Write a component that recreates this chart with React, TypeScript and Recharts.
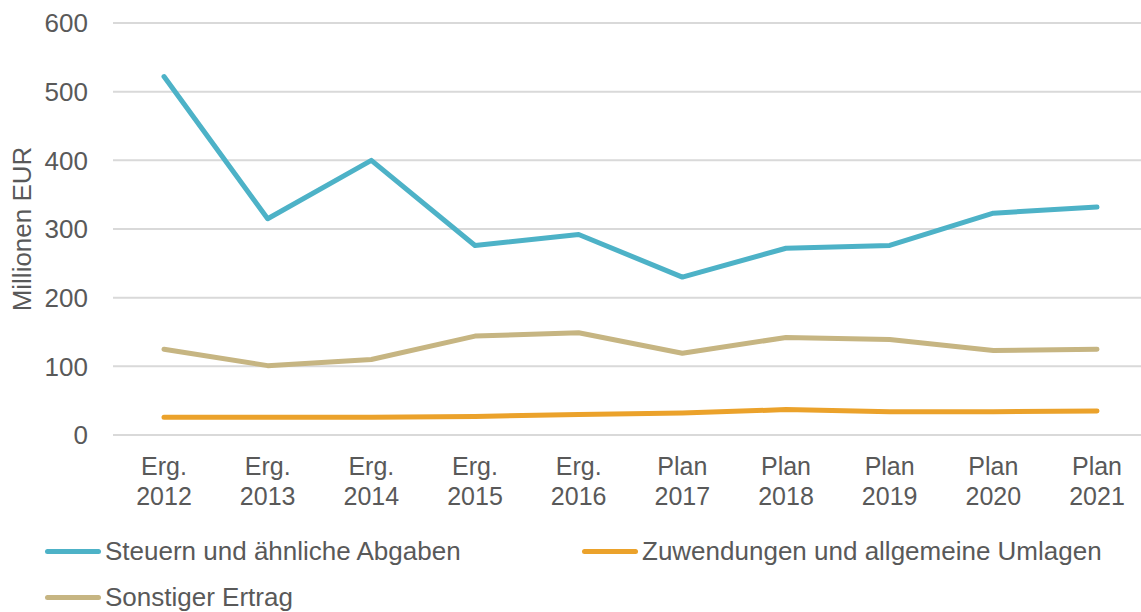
import { LineChart, Line, XAxis, YAxis, CartesianGrid, Legend } from 'recharts'

const years = ['2012', '2013', '2014', '2015', '2016', '2017', '2018', '2019', '2020', '2021']
const prefixes = ['Erg.', 'Erg.', 'Erg.', 'Erg.', 'Erg.', 'Plan', 'Plan', 'Plan', 'Plan', 'Plan']

const steuern = [522, 315, 400, 276, 292, 230, 272, 276, 323, 332]
const zuwendungen = [26, 26, 26, 27, 30, 32, 37, 34, 34, 35]
const sonstiger = [125, 101, 110, 144, 149, 119, 142, 139, 123, 125]

const yTicks = [0, 100, 200, 300, 400, 500, 600]

const series = [
  { key: 'steuern', name: 'Steuern und ähnliche Abgaben', color: '#4DB2C7' },
  { key: 'zuwendungen', name: 'Zuwendungen und allgemeine Umlagen', color: '#EBA22B' },
  { key: 'sonstiger', name: 'Sonstiger Ertrag', color: '#C6B582' },
]

const data = years.map((year, i) => ({
  cat: `${prefixes[i]} ${year}`,
  prefix: prefixes[i],
  year,
  steuern: steuern[i],
  zuwendungen: zuwendungen[i],
  sonstiger: sonstiger[i],
}))

const FONT = '"Liberation Sans", Arial, sans-serif'
const TEXT = '#595959'

const XTick = ({ x, y, index }: any) => {
  const d = data[index]
  return (
    <text x={x} y={y} textAnchor="middle" fill={TEXT} fontSize={25} fontFamily={FONT}>
      <tspan x={x} dy={32}>{d.prefix}</tspan>
      <tspan x={x} dy={30}>{d.year}</tspan>
    </text>
  )
}

const YLabel = ({ viewBox }: any) => {
  const cx = 22
  const cy = viewBox.y + viewBox.height / 2
  return (
    <text
      x={cx}
      y={cy}
      transform={`rotate(-90 ${cx} ${cy})`}
      textAnchor="middle"
      dominantBaseline="central"
      fill={TEXT}
      fontSize={26}
      fontFamily={FONT}
    >
      Millionen EUR
    </text>
  )
}

const LegendContent = () => (
  <div style={{ display: 'flex', flexWrap: 'wrap', paddingLeft: 45, paddingTop: 8, fontFamily: FONT }}>
    {series.map((s) => (
      <div key={s.key} style={{ width: 537, height: 46, display: 'flex', alignItems: 'center' }}>
        <div style={{ width: 56, height: 5, borderRadius: 3, background: s.color, marginRight: 4 }} />
        <span style={{ fontSize: 26, color: TEXT, whiteSpace: 'nowrap' }}>{s.name}</span>
      </div>
    ))}
  </div>
)

export default function App() {
  return (
    <div style={{ position: 'absolute', left: 0, top: 0, background: '#fff' }}>
      <LineChart width={1141} height={612} data={data} margin={{ top: 23, right: 0, left: 0, bottom: 0 }}>
        <CartesianGrid vertical={false} stroke="#D9D9D9" strokeWidth={2} />
        <XAxis
          dataKey="cat"
          axisLine={false}
          tickLine={false}
          height={85}
          interval={0}
          padding={{ left: 51, right: 44 }}
          tick={<XTick />}
        />
        <YAxis
          domain={[0, 600]}
          ticks={yTicks}
          width={113}
          axisLine={false}
          tickLine={false}
          tickSize={0}
          tickMargin={25}
          tick={{ fontSize: 26, fill: TEXT, fontFamily: FONT }}
          label={<YLabel />}
        />
        <Legend verticalAlign="bottom" height={92} content={<LegendContent />} wrapperStyle={{ left: 0, width: 1141 }} />
        {series.map((s) => (
          <Line
            key={s.key}
            dataKey={s.key}
            name={s.name}
            stroke={s.color}
            strokeWidth={5}
            strokeLinecap="round"
            strokeLinejoin="round"
            dot={false}
            activeDot={false}
            isAnimationActive={false}
          />
        ))}
      </LineChart>
    </div>
  )
}
